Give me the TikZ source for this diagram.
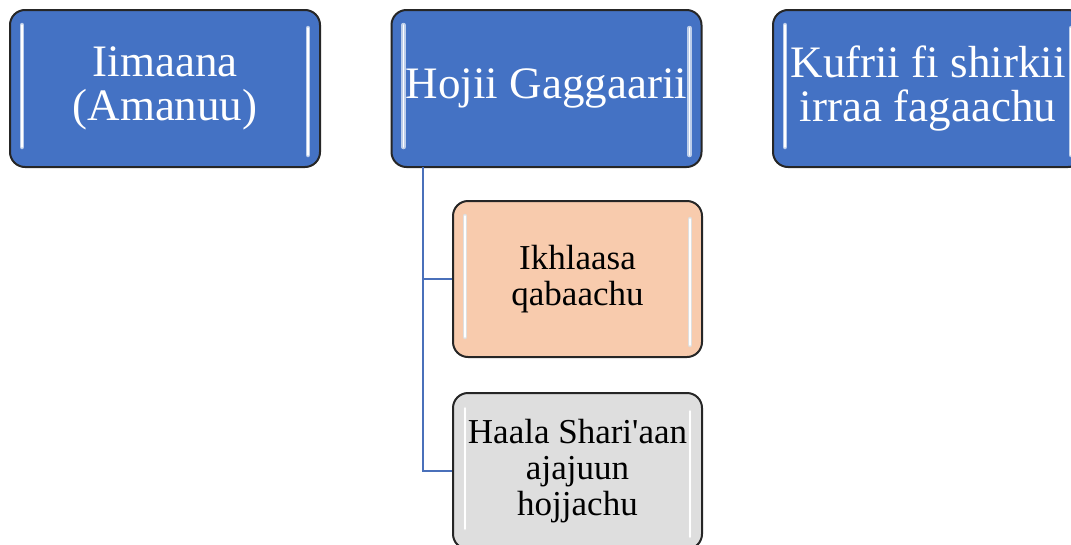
\documentclass[tikz,border=0pt]{standalone}
\usepackage{fontspec}
\setmainfont{Liberation Serif}
\definecolor{boxblue}{HTML}{4472C4}
\definecolor{linkblue}{HTML}{4A70BA}
\definecolor{peach}{HTML}{F8CBAD}
\definecolor{greybox}{HTML}{DEDEDE}

\tikzset{
  glossy/.style = {path picture = {
    \draw[#1, line width = 4.5pt, line cap = round]
      ([xshift = 12pt, yshift = -15pt] path picture bounding box.north west) -- ([xshift = 12pt, yshift = 20pt] path picture bounding box.south west);
    \draw[#1, line width = 4.5pt, line cap = round]
      ([xshift = -12pt, yshift = -18pt] path picture bounding box.north east) -- ([xshift = -12pt, yshift = 12pt] path picture bounding box.south east);
    \draw[white, line width = 1.5pt, line cap = round]
      ([xshift = 12pt, yshift = -15pt] path picture bounding box.north west) -- ([xshift = 12pt, yshift = 20pt] path picture bounding box.south west);
    \draw[white, line width = 1.5pt, line cap = round]
      ([xshift = -12pt, yshift = -18pt] path picture bounding box.north east) -- ([xshift = -12pt, yshift = 12pt] path picture bounding box.south east);
  }},
  mainbox/.style = {draw = black!85, line width = 2pt, rounded corners = 15pt, fill = boxblue, text = white,
    minimum width = 310pt, minimum height = 157pt, inner sep = 0pt, align = center,
    font = \fontsize{45}{44}\selectfont, glossy = boxblue!35!white},
  subbox/.style = {draw = black!85, line width = 2pt, rounded corners = 15pt, text = black,
    minimum width = 249pt, minimum height = 156pt, inner sep = 0pt, align = center,
    font = \fontsize{35}{36}\selectfont, glossy = white!75!gray},
  link/.style = {draw = linkblue, line width = 1.5pt}
}

\begin{document}
\begin{tikzpicture}[x = 1pt, y = -1pt]
\useasboundingbox (0,0) rectangle (1071,544);
\node (iimaana) [mainbox] at (165, 88.5) {Iimaana\\(Amanuu)};
\node (hojii) [mainbox] at (546.5, 88.5) {Hojii Gaggaarii};
\node (kufrii) [mainbox] at (928, 88.5) {Kufrii fi shirkii\\irraa fagaachu};
\node (ikhlaasa) [subbox, fill = peach] at (577.5, 279) {Ikhlaasa\\qabaachu};
\node (haala) [subbox, fill = greybox] at (577.5, 471) {Haala Shari\textquotesingle aan\\ajajuun\\hojjachu};
\coordinate (trunk) at (423, 167);
\draw [link] (trunk) |- (ikhlaasa.west);
\draw [link] (trunk) |- (haala.west);
\end{tikzpicture}
\end{document}
